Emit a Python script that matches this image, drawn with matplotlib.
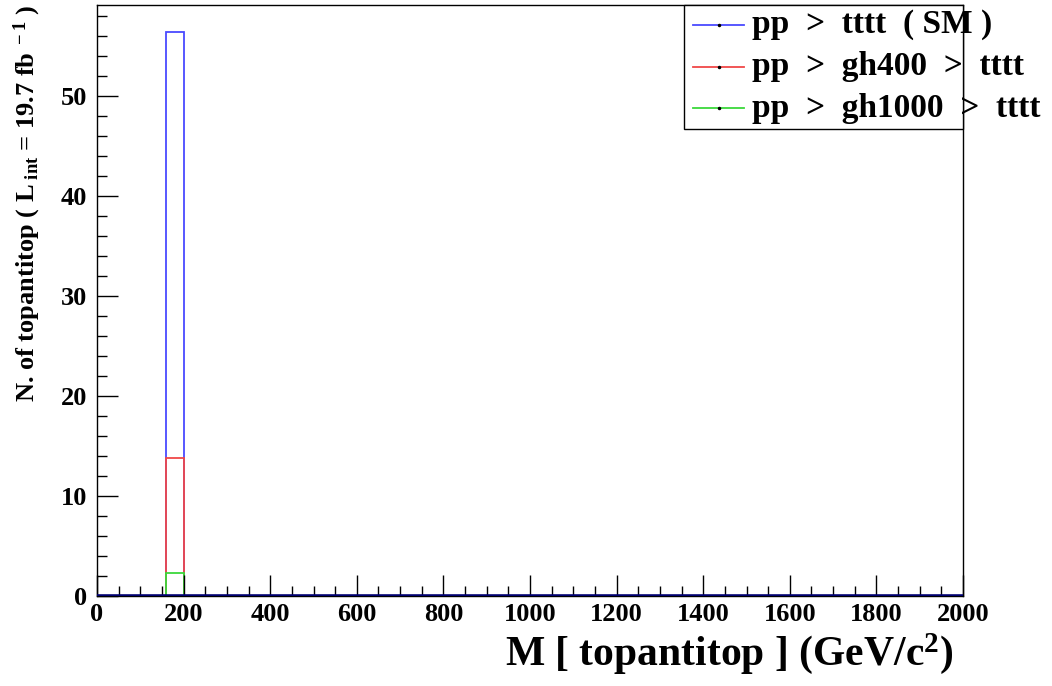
import numpy as np
import matplotlib
matplotlib.use("Agg")
import matplotlib.pyplot as plt
from matplotlib.ticker import MultipleLocator
from matplotlib.lines import Line2D

# histogram binning: 50 bins of 40 GeV between 0 and 2000
bin_edges = np.linspace(0, 2000, 51)

# event counts per bin (only the 160-200 GeV bin is filled)
sm_counts = [0, 0, 0, 0, 56.4] + [0] * 45
gh400_counts = [0, 0, 0, 0, 13.8] + [0] * 45
gh1000_counts = [0, 0, 0, 0, 2.3] + [0] * 45

labels = ["pp  >  tttt  ( SM )",
          "pp  >  gh400  >  tttt",
          "pp  >  gh1000  >  tttt"]
colors = ["#4a4aff", "#f04848", "#3ad83a"]

plt.rcParams["font.family"] = "Liberation Serif"
plt.rcParams["font.weight"] = "bold"
plt.rcParams["mathtext.fontset"] = "custom"
plt.rcParams["mathtext.rm"] = "Liberation Serif:bold"
plt.rcParams["mathtext.it"] = "Liberation Serif:bold"
plt.rcParams["mathtext.bf"] = "Liberation Serif:bold"

fig = plt.figure(figsize=(10.52, 6.86), dpi=100)
ax = fig.add_axes([97 / 1052, 90 / 686, 866 / 1052, 591 / 686])

for counts, col in zip([sm_counts, gh400_counts, gh1000_counts], colors):
    ax.stairs(counts, bin_edges, color=col, lw=1.3)
ax.axhline(0, color="#000070", lw=2.6, zorder=5)

ax.set_xlim(0, 2000)
ax.set_ylim(0, 59.1)
ax.xaxis.set_major_locator(MultipleLocator(200))
ax.xaxis.set_minor_locator(MultipleLocator(50))
ax.yaxis.set_major_locator(MultipleLocator(10))
ax.yaxis.set_minor_locator(MultipleLocator(2))
ax.tick_params(which="both", direction="in", width=1, color="black",
               labelsize=19, top=False, right=False)
ax.tick_params(which="major", length=15)
ax.tick_params(which="minor", length=7)
ax.tick_params(axis="x", pad=5)
ax.tick_params(axis="y", pad=7)
for sp in ax.spines.values():
    sp.set_linewidth(1)

fig.text(953 / 1052, 1 - 665 / 686, r"M [ topantitop ] (GeV/c$^{2}$)",
         ha="right", va="baseline", fontsize=30, fontweight="bold")
fig.text(27 / 1052, 0.993,
         r"N. of topantitop ( L$_{\rm\ int}$ = 19.7 fb$^{\rm\ -1}$ )",
         rotation=90, ha="center", va="top", fontsize=19, fontweight="bold")

# legend box drawn by hand, text runs past the frame as in ROOT
box = plt.Rectangle((684 / 1052, 1 - 129 / 686), 279 / 1052, 124 / 686,
                    transform=fig.transFigure, facecolor="white",
                    edgecolor="black", lw=1, zorder=10)
fig.add_artist(box)
for i, (lab, col) in enumerate(zip(labels, colors)):
    yc = 1 - (25 + 41.5 * i) / 686
    fig.add_artist(Line2D([693 / 1052, 744 / 1052], [yc, yc], color=col,
                          lw=1.3, transform=fig.transFigure, zorder=11))
    fig.add_artist(Line2D([718.5 / 1052], [yc], marker="o", ms=1.5,
                          color="black", transform=fig.transFigure, zorder=12))
    fig.text(752 / 1052, yc, lab, ha="left", va="center", fontsize=24,
             fontweight="bold", zorder=12)

fig.savefig("out.png", dpi=100)
